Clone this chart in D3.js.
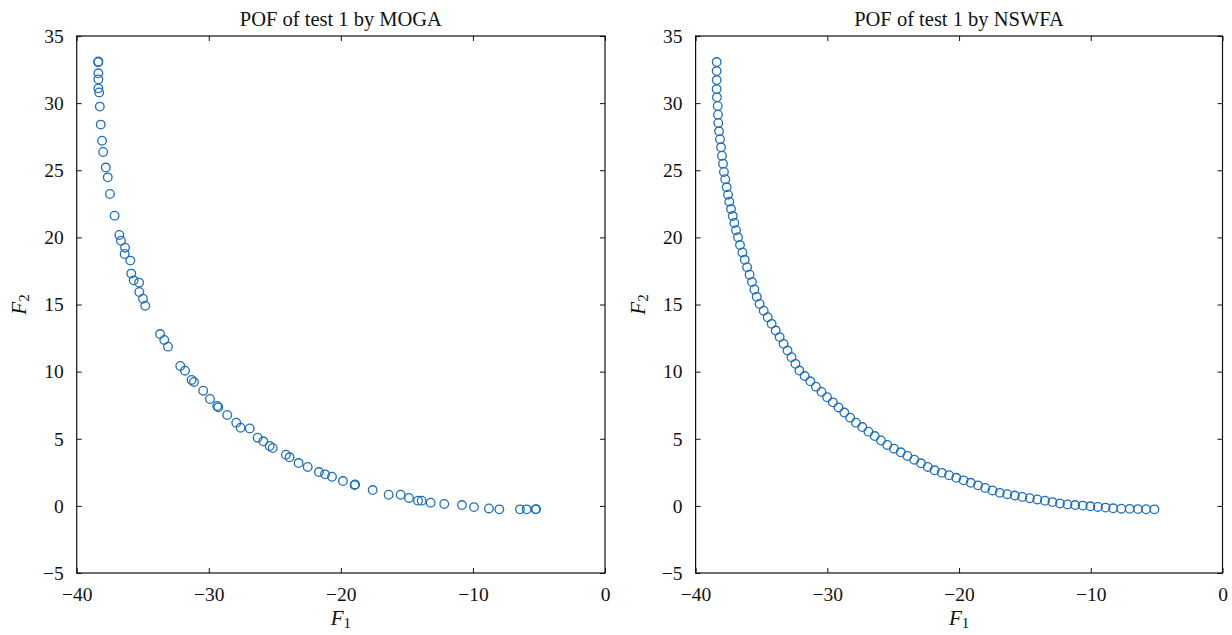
<!DOCTYPE html>
<html>
<head>
<meta charset="utf-8">
<script src="https://cdn.jsdelivr.net/npm/d3@7"></script>
<style>
  body { margin: 0; background: #fff; }
  svg { display: block; }
  text { font-family: "Liberation Serif", "Times New Roman", serif; fill: #111; }
</style>
</head>
<body>
<svg id="chart" width="1232" height="635"></svg>
<script>
// Pareto-optimal front of test 1 found by MOGA (objective F1, objective F2)
const mogaF1 = [-38.36, -38.38, -38.36, -38.36, -38.36, -38.30, -38.25, -38.18, -38.08, -38.00,
  -37.80, -37.65, -37.48, -37.13, -36.77, -36.65, -36.34, -36.37, -35.94, -35.87,
  -35.69, -35.28, -35.26, -34.98, -34.81, -33.69, -33.37, -33.09, -32.16, -31.80,
  -31.30, -31.12, -30.42, -29.91, -29.36, -29.28, -28.60, -27.92, -27.59, -26.90,
  -26.30, -25.87, -25.39, -25.16, -24.16, -23.88, -23.20, -22.51, -21.66, -21.20,
  -20.67, -19.84, -18.96, -18.92, -17.59, -16.38, -15.47, -14.84, -14.16, -13.88,
  -13.20, -12.17, -10.83, -9.92, -8.79, -8.00, -6.44, -5.93, -5.25, -5.22];
const mogaF2 = [33.10, 33.05, 32.22, 31.77, 31.10, 30.80, 29.74, 28.40, 27.20, 26.36,
  25.20, 24.47, 23.23, 21.62, 20.18, 19.75, 19.23, 18.76, 18.27, 17.30,
  16.80, 16.63, 15.93, 15.43, 14.91, 12.80, 12.36, 11.86, 10.42, 10.07,
  9.38, 9.23, 8.58, 7.96, 7.44, 7.34, 6.77, 6.20, 5.82, 5.77,
  5.08, 4.81, 4.46, 4.31, 3.81, 3.62, 3.19, 2.90, 2.52, 2.35,
  2.17, 1.85, 1.55, 1.60, 1.18, 0.83, 0.83, 0.59, 0.39, 0.39,
  0.24, 0.14, 0.06, -0.09, -0.19, -0.26, -0.26, -0.26, -0.26, -0.24];

// Pareto-optimal front of test 1 found by NSWFA
const nswfaF1 = [-38.40, -38.40, -38.40, -38.40, -38.38, -38.32, -38.30, -38.28, -38.22, -38.15,
  -38.07, -38.00, -37.92, -37.85, -37.75, -37.64, -37.54, -37.44, -37.31, -37.18,
  -37.06, -36.93, -36.78, -36.63, -36.45, -36.27, -36.09, -35.90, -35.72, -35.54,
  -35.36, -35.14, -34.83, -34.53, -34.23, -33.92, -33.62, -33.32, -33.02, -32.72,
  -32.42, -32.12, -31.72, -31.29, -30.87, -30.44, -30.02, -29.58, -29.15, -28.71,
  -28.27, -27.83, -27.35, -26.88, -26.40, -25.93, -25.45, -24.94, -24.43, -23.92,
  -23.40, -22.89, -22.38, -21.86, -21.31, -20.76, -20.21, -19.66, -19.11, -18.56,
  -18.01, -17.46, -16.91, -16.34, -15.77, -15.20, -14.63, -14.06, -13.48, -12.91,
  -12.34, -11.77, -11.19, -10.61, -10.03, -9.46, -8.88, -8.30, -7.68, -7.05,
  -6.42, -5.80, -5.17];
const nswfaF2 = [33.06, 32.39, 31.72, 31.05, 30.43, 29.79, 29.14, 28.52, 27.90, 27.31,
  26.71, 26.08, 25.49, 24.87, 24.33, 23.73, 23.18, 22.66, 22.11, 21.59,
  21.07, 20.53, 20.01, 19.43, 18.88, 18.33, 17.78, 17.22, 16.67, 16.12,
  15.57, 15.04, 14.54, 14.05, 13.56, 13.06, 12.57, 12.07, 11.57, 11.08,
  10.58, 10.08, 9.67, 9.28, 8.88, 8.49, 8.09, 7.71, 7.33, 6.95,
  6.57, 6.20, 5.87, 5.53, 5.20, 4.87, 4.54, 4.26, 3.99, 3.72,
  3.44, 3.17, 2.90, 2.65, 2.46, 2.28, 2.09, 1.90, 1.72, 1.53,
  1.34, 1.15, 0.97, 0.87, 0.77, 0.67, 0.57, 0.48, 0.38, 0.28,
  0.18, 0.11, 0.06, 0.02, -0.03, -0.08, -0.13, -0.18, -0.21, -0.22,
  -0.24, -0.25, -0.26];

const xTickValues = [-40, -30, -20, -10, 0];
const yTickValues = [-5, 0, 5, 10, 15, 20, 25, 30, 35];
const panelTitles = ["POF of test 1 by MOGA", "POF of test 1 by NSWFA"];

const svg = d3.select("#chart");
const plotTop = 36, plotBottom = 573;
const markerColor = "#1f6eb6";
const fmt = d => (d < 0 ? "\u2212" + Math.abs(d) : String(d));

const panels = [
  { left: 76.7, right: 605, f1: mogaF1, f2: mogaF2, title: panelTitles[0] },
  { left: 695.6, right: 1222.5, f1: nswfaF1, f2: nswfaF2, title: panelTitles[1] }
];

panels.forEach(p => {
  const x = d3.scaleLinear().domain([-40, 0]).range([p.left, p.right]);
  const y = d3.scaleLinear().domain([-5, 35]).range([plotBottom, plotTop]);
  const g = svg.append("g");

  // inward ticks on all four sides
  const styleAxis = sel => {
    sel.select(".domain").remove();
    sel.selectAll(".tick line").attr("stroke", "#111").attr("stroke-width", 1);
    sel.selectAll(".tick text").style("font-size", "19.5px").attr("fill", "#111");
  };
  g.append("g").attr("transform", `translate(0,${plotBottom})`)
    .call(d3.axisBottom(x).tickValues(xTickValues).tickFormat(fmt).tickSizeInner(-5).tickSizeOuter(0).tickPadding(14))
    .call(styleAxis);
  g.append("g").attr("transform", `translate(0,${plotTop})`)
    .call(d3.axisTop(x).tickValues(xTickValues).tickFormat("").tickSizeInner(-5).tickSizeOuter(0))
    .call(styleAxis);
  g.append("g").attr("transform", `translate(${p.left},0)`)
    .call(d3.axisLeft(y).tickValues(yTickValues).tickFormat(fmt).tickSizeInner(-5).tickSizeOuter(0).tickPadding(13))
    .call(styleAxis);
  g.append("g").attr("transform", `translate(${p.right},0)`)
    .call(d3.axisRight(y).tickValues(yTickValues).tickFormat("").tickSizeInner(-5).tickSizeOuter(0))
    .call(styleAxis);

  // plot frame
  g.append("rect")
    .attr("x", p.left).attr("y", plotTop)
    .attr("width", p.right - p.left).attr("height", plotBottom - plotTop)
    .attr("fill", "none").attr("stroke", "#111").attr("stroke-width", 1.2);

  // markers
  g.append("g").selectAll("circle")
    .data(d3.zip(p.f1, p.f2))
    .join("circle")
    .attr("cx", d => x(d[0]))
    .attr("cy", d => y(d[1]))
    .attr("r", 4.3)
    .attr("fill", "none")
    .attr("stroke", markerColor)
    .attr("stroke-width", 1.3);

  // title
  g.append("text")
    .attr("x", (p.left + p.right) / 2).attr("y", 26)
    .attr("text-anchor", "middle")
    .style("font-size", "20.5px")
    .text(p.title);

  // x-axis label F1
  const xl = g.append("text")
    .attr("x", (p.left + p.right) / 2).attr("y", 625)
    .attr("text-anchor", "middle")
    .style("font-size", "21px");
  xl.append("tspan").attr("font-style", "italic").text("F");
  xl.append("tspan").attr("dy", 3).style("font-size", "15px").text("1");

  // y-axis label F2
  const yl = g.append("text")
    .attr("transform", `translate(${p.left - 51},${(plotTop + plotBottom) / 2}) rotate(-90)`)
    .attr("text-anchor", "middle")
    .style("font-size", "21px");
  yl.append("tspan").attr("font-style", "italic").text("F");
  yl.append("tspan").attr("dy", 3).style("font-size", "15px").text("2");
});
</script>
</body>
</html>
